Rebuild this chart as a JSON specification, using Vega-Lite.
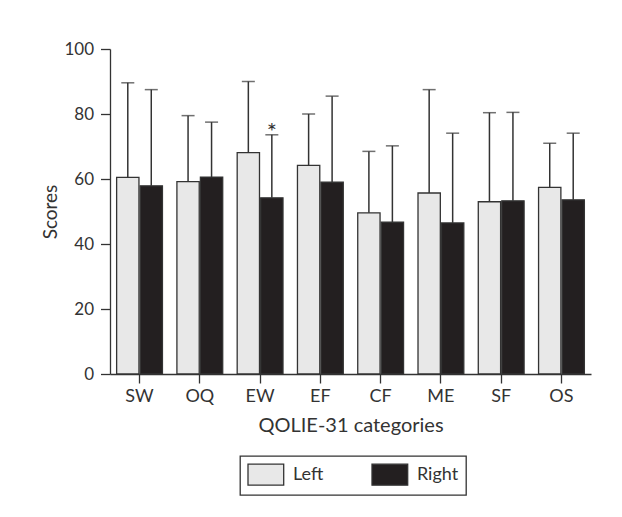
{
  "$schema": "https://vega.github.io/schema/vega-lite/v6.json",
  "width": 481,
  "height": 325,
  "autosize": "none",
  "padding": {"left": 110, "top": 49, "right": 31, "bottom": 143},
  "background": "white",
  "config": {
    "view": {"stroke": null},
    "font": "Lato",
    "axis": {
      "domainColor": "#333333",
      "domainWidth": 1.3,
      "tickColor": "#333333",
      "tickWidth": 1.3,
      "labelColor": "#333333",
      "titleColor": "#333333",
      "titleFontWeight": "normal",
      "grid": false,
      "labelFont": "Lato",
      "titleFont": "Lato"
    },
    "legend": {
      "labelFont": "Lato",
      "strokeColor": "#333333",
      "strokeWidth": 1.3,
      "padding": 7
    }
  },
  "data": {
    "values": [
      {"cat": "SW", "group": "Left", "mean": 60.5, "upper": 89.6, "sig": ""},
      {"cat": "SW", "group": "Right", "mean": 57.9, "upper": 87.5, "sig": ""},
      {"cat": "OQ", "group": "Left", "mean": 59.2, "upper": 79.5, "sig": ""},
      {"cat": "OQ", "group": "Right", "mean": 60.6, "upper": 77.5, "sig": ""},
      {"cat": "EW", "group": "Left", "mean": 68.1, "upper": 90.0, "sig": ""},
      {"cat": "EW", "group": "Right", "mean": 54.2, "upper": 73.6, "sig": "*"},
      {"cat": "EF", "group": "Left", "mean": 64.2, "upper": 80.0, "sig": ""},
      {"cat": "EF", "group": "Right", "mean": 59.0, "upper": 85.5, "sig": ""},
      {"cat": "CF", "group": "Left", "mean": 49.6, "upper": 68.5, "sig": ""},
      {"cat": "CF", "group": "Right", "mean": 46.7, "upper": 70.2, "sig": ""},
      {"cat": "ME", "group": "Left", "mean": 55.7, "upper": 87.5, "sig": ""},
      {"cat": "ME", "group": "Right", "mean": 46.5, "upper": 74.1, "sig": ""},
      {"cat": "SF", "group": "Left", "mean": 53.0, "upper": 80.4, "sig": ""},
      {"cat": "SF", "group": "Right", "mean": 53.3, "upper": 80.5, "sig": ""},
      {"cat": "OS", "group": "Left", "mean": 57.4, "upper": 71.0, "sig": ""},
      {"cat": "OS", "group": "Right", "mean": 53.6, "upper": 74.1, "sig": ""}
    ]
  },
  "encoding": {
    "x": {
      "field": "cat",
      "type": "nominal",
      "sort": null,
      "scale": {"paddingInner": 0.24, "paddingOuter": 0.11},
      "axis": {
        "title": "QOLIE-31 categories",
        "labelAngle": 0,
        "labelFontSize": 18,
        "tickSize": 9,
        "labelPadding": 4,
        "titleFontSize": 20,
        "titlePadding": 10
      }
    },
    "xOffset": {
      "field": "group",
      "type": "nominal",
      "sort": ["Left", "Right"],
      "scale": {"paddingInner": 0.05}
    }
  },
  "layer": [
    {
      "mark": {"type": "bar", "stroke": "#333333", "strokeWidth": 1.3},
      "encoding": {
        "y": {
          "field": "mean",
          "type": "quantitative",
          "scale": {"domain": [0, 100]},
          "axis": {
            "title": "Scores",
            "values": [0, 20, 40, 60, 80, 100],
            "labelFontSize": 17,
            "tickSize": 9.5,
            "labelPadding": 7,
            "titleFontSize": 19,
            "titlePadding": 3
          }
        },
        "fill": {
          "field": "group",
          "type": "nominal",
          "scale": {"domain": ["Left", "Right"], "range": ["#e8e8e8", "#231f20"]},
          "legend": {
            "title": null,
            "orient": "none",
            "legendX": 130,
            "legendY": 407,
            "direction": "horizontal",
            "symbolType": "M-1.7,-1H1.7V1H-1.7Z",
            "symbolSize": 441,
            "symbolOffset": 7.35,
            "symbolStrokeColor": "#333333",
            "symbolStrokeWidth": 1.3,
            "labelFontSize": 18,
            "labelColor": "#333333",
            "labelOffset": 15.6,
            "columnPadding": 45
          }
        }
      }
    },
    {
      "mark": {"type": "rule", "color": "#333333", "strokeWidth": 1.5},
      "encoding": {
        "y": {"field": "mean", "type": "quantitative"},
        "y2": {"field": "upper"}
      }
    },
    {
      "mark": {"type": "tick", "orient": "horizontal", "size": 13, "thickness": 1.5, "color": "#333333"},
      "encoding": {
        "y": {"field": "upper", "type": "quantitative"}
      }
    },
    {
      "mark": {"type": "text", "baseline": "alphabetic", "dy": 5, "fontSize": 24, "color": "#333333"},
      "encoding": {
        "y": {"field": "upper", "type": "quantitative"},
        "text": {"field": "sig"}
      }
    }
  ]
}
